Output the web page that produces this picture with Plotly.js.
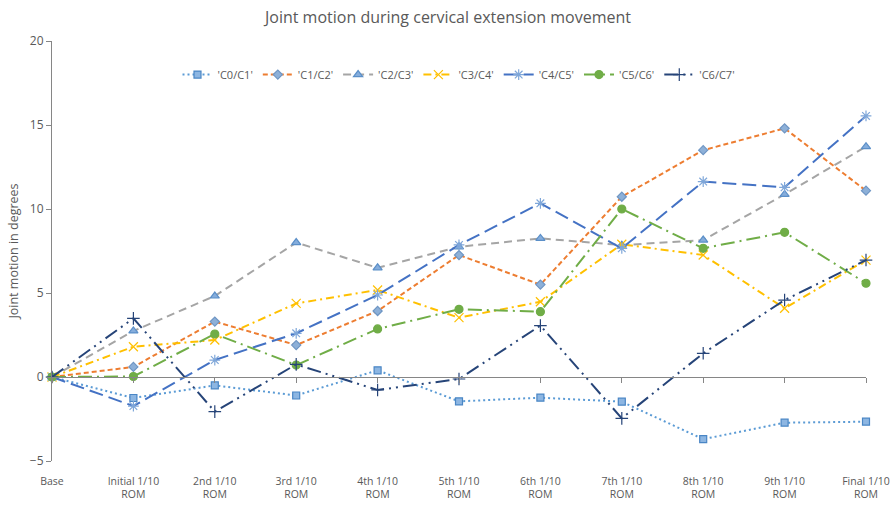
<!DOCTYPE html>
<html>
<head>
<meta charset="utf-8">
<script src="https://cdn.plot.ly/plotly-3.0.1.min.js"></script>
<style>html,body{margin:0;padding:0;background:#fff}#chart{width:896px;height:505px}</style>
</head>
<body>
<div id="chart"></div>
<script>
const categories = ["Base", "Initial 1/10<br>ROM", "2nd 1/10<br>ROM", "3rd 1/10<br>ROM", "4th 1/10<br>ROM", "5th 1/10<br>ROM", "6th 1/10<br>ROM", "7th 1/10<br>ROM", "8th 1/10<br>ROM", "9th 1/10<br>ROM", "Final 1/10<br>ROM"];
const seriesNames = ["'C0/C1'", "'C1/C2'", "'C2/C3'", "'C3/C4'", "'C4/C5'", "'C5/C6'", "'C6/C7'"];
const c0c1 = [0, -1.25, -0.5, -1.1, 0.4, -1.45, -1.23, -1.47, -3.7, -2.72, -2.66];
const c1c2 = [0, 0.6, 3.3, 1.9, 3.93, 7.26, 5.5, 10.73, 13.5, 14.8, 11.09];
const c2c3 = [0, 2.74, 4.82, 8.0, 6.5, 7.75, 8.25, 7.85, 8.15, 10.87, 13.71];
const c3c4 = [0, 1.8, 2.2, 4.38, 5.18, 3.53, 4.48, 7.9, 7.26, 4.09, 6.96];
const c4c5 = [0, -1.73, 1.01, 2.6, 4.88, 7.86, 10.34, 7.66, 11.63, 11.29, 15.54];
const c5c6 = [0, 0.03, 2.56, 0.71, 2.86, 4.03, 3.89, 10.0, 7.66, 8.61, 5.58];
const c6c7 = [0, 3.49, -2.06, 0.75, -0.77, -0.12, 3.06, -2.46, 1.41, 4.58, 6.96];
const yTicks = [-5, 0, 5, 10, 15, 20];

const values = [c0c1, c1c2, c2c3, c3c4, c4c5, c5c6, c6c7];
const styles = [
  {color: "#5B9BD5", dash: "2px,3px", symbol: "square", msize: 7, mcolor: "#8DB6E2", mline: "#4A86C5"},
  {color: "#ED7D31", dash: "5px,3px", symbol: "diamond", msize: 7, mcolor: "#8DB0D8", mline: "#6F96C4"},
  {color: "#A5A5A5", dash: "8px,5px", symbol: "triangle-up", msize: 8, mcolor: "#85ADDC", mline: "#5B8FC8"},
  {color: "#FFC000", dash: "8px,4px,2px,4px", symbol: "x-thin-open", msize: 9, mcolor: "#FFC000", mline: "#FFC000"},
  {color: "#4472C4", dash: "14px,6px", symbol: "asterisk-open", msize: 9, mcolor: "#7FA7D9", mline: "#7FA7D9"},
  {color: "#70AD47", dash: "14px,5px,2px,5px", symbol: "circle", msize: 8, mcolor: "#70AD47", mline: "#70AD47"},
  {color: "#264478", dash: "14px,5px,2px,5px,2px,5px", symbol: "cross-thin-open", msize: 9, mcolor: "#264478", mline: "#264478"}
];

const traces = values.map((v, i) => ({
  type: "scatter",
  mode: "lines+markers",
  name: seriesNames[i],
  x: categories.map((c, k) => k),
  y: v,
  cliponaxis: false,
  line: {color: styles[i].color, width: 2, dash: styles[i].dash},
  marker: {symbol: styles[i].symbol, size: styles[i].msize, color: styles[i].mcolor,
           line: {color: styles[i].mline, width: 1.2}}
}));

// invisible trace to drive the axis at y = 0
traces.push({type: "scatter", x: [0, 10], y: [0, 0], xaxis: "x2", mode: "none", showlegend: false, hoverinfo: "skip"});

const layout = {
  width: 896, height: 505,
  margin: {l: 52, r: 30, t: 41, b: 44},
  paper_bgcolor: "#fff", plot_bgcolor: "#fff",
  font: {family: "Open Sans, sans-serif", color: "#595959"},
  title: {text: "Joint motion during cervical extension movement", x: 0.5, xanchor: "center", y: 0.965, yanchor: "middle",
          font: {size: 16, color: "#595959", family: "Open Sans, sans-serif"}},
  showlegend: true,
  legend: {orientation: "h", x: 0.5, xanchor: "center", y: 0.92, yanchor: "middle",
           font: {size: 11, color: "#595959"}, itemwidth: 30, tracegroupgap: 0, bgcolor: "rgba(0,0,0,0)"},
  xaxis: {
    range: [0, 10], tickmode: "array", tickvals: categories.map((c, k) => k), ticktext: categories,
    showgrid: false, zeroline: false, showline: false, ticks: "outside", ticklen: 10, tickcolor: "rgba(0,0,0,0)", tickangle: 0,
    tickfont: {size: 10.5, color: "#595959"}, fixedrange: true
  },
  xaxis2: {
    range: [0, 10], overlaying: "x", anchor: "free", position: 0.2, side: "bottom",
    tickmode: "array", tickvals: categories.map((c, k) => k), showticklabels: false,
    ticks: "outside", ticklen: 5, tickcolor: "#868686", showline: true, linecolor: "#868686", linewidth: 1,
    showgrid: false, zeroline: false
  },
  yaxis: {
    range: [-5, 20], tickvals: yTicks, showgrid: false, zeroline: false,
    showline: true, linecolor: "#868686", linewidth: 1, ticks: "outside", ticklen: 5, tickcolor: "#868686",
    tickfont: {size: 12, color: "#595959"},
    title: {text: "Joint motion in degrees", font: {size: 12.5, color: "#595959"}, standoff: 8}
  }
};

Plotly.newPlot("chart", traces, layout, {displayModeBar: false, staticPlot: true});
</script>
</body>
</html>
